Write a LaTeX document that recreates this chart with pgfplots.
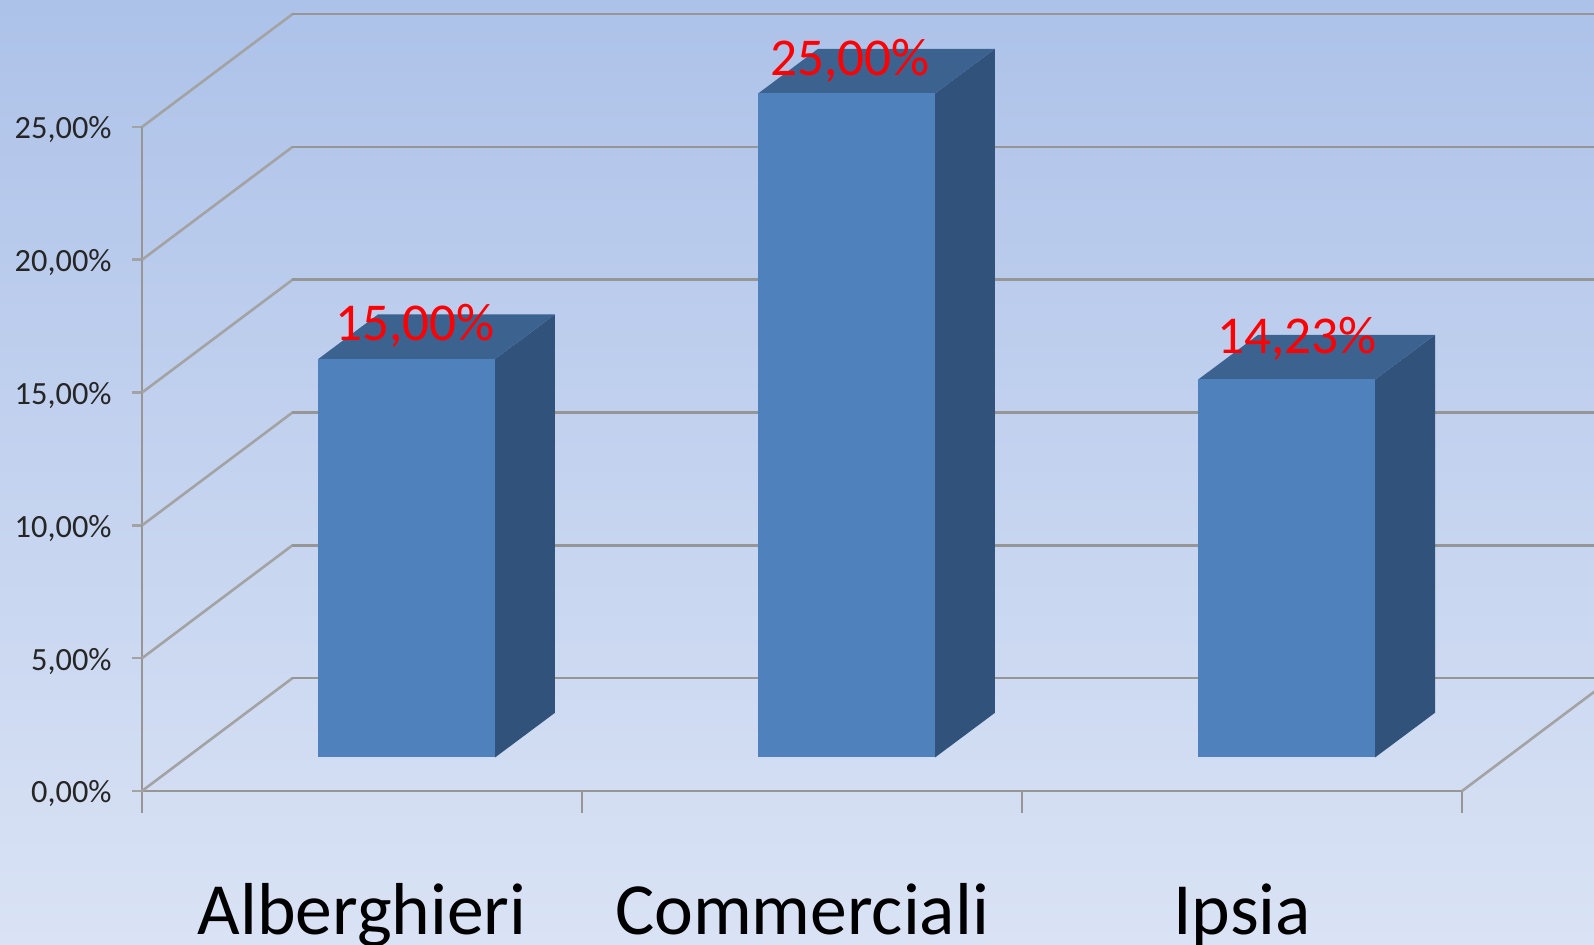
\documentclass[border=0pt]{standalone}
\usepackage{pgfplots}
\pgfplotsset{compat=1.18}
\usepackage{fontspec}
\setmainfont{Carlito}
\definecolor{bgtop}{HTML}{ADC2E9}
\definecolor{bgbot}{HTML}{DAE3F5}
\definecolor{gridc}{HTML}{969696}
\definecolor{diag}{HTML}{A3A3A3}
\definecolor{barfront}{HTML}{4F81BD}
\definecolor{barside}{HTML}{31527A}
\definecolor{bartop}{HTML}{3C6290}
\pgfplotsset{
  common/.style={
    scale only axis, width=660pt, height=332pt,
    xmin=-0.5, xmax=2.5, ymin=0, ymax=25,
    anchor=south west, clip=false,
  },
  valbar/.style 2 args={
    ybar, bar width=88.5pt, bar shift=0pt, fill=barfront, draw=none,
    point meta=explicit,
    nodes near coords={\pgfmathprintnumber[fixed,fixed zerofill,precision=2,use comma,assume math mode=true]{\pgfplotspointmeta}\%},
    every node near coord/.append style={font=\fontsize{26.6}{30}\selectfont, text=red, anchor=center, xshift=#1, yshift=#2, inner sep=0pt},
  },
}
\begin{document}
\begin{tikzpicture}[x=1pt,y=1pt]
\fill[top color=bgtop, bottom color=bgbot] (0,0) rectangle (797,472.5);
\clip (0,0) rectangle (797,472.5);
% walls, floor, ticks
\begin{axis}[common, at={(71pt,77pt)},
  axis x line=bottom, axis y line=left,
  axis line style={-, draw=gridc, line width=1.3pt},
  tick align=outside,
  xtick={0,1,2}, xticklabels={Alberghieri,Commerciali,Ipsia},
  minor xtick={-0.5,0.5,1.5,2.5},
  major x tick style={draw=none},
  minor x tick style={draw=gridc, line width=1.3pt},
  minor tick length=11pt,
  ytick={0,5,10,15,20,25},
  y tick style={draw=diag, line width=1.3pt},
  major tick length=5pt,
  yticklabel={\pgfmathprintnumber[fixed,fixed zerofill,precision=2,use comma,assume math mode=true]{\tick}\%},
  yticklabel style={font=\fontsize{16.2}{18}\selectfont, text=black!85, inner sep=0pt, xshift=-10pt, yshift=-1.5pt},
  xticklabel style={font=\fontsize{36.8}{40}\selectfont, text=black, inner sep=0pt, yshift=-41pt},
]
% side wall
\addplot[draw=diag, line width=1.3pt] coordinates {(-0.5,0) (-0.158,4.25)};
\addplot[draw=diag, line width=1.3pt] coordinates {(-0.5,5) (-0.158,9.25)};
\addplot[draw=diag, line width=1.3pt] coordinates {(-0.5,10) (-0.158,14.25)};
\addplot[draw=diag, line width=1.3pt] coordinates {(-0.5,15) (-0.158,19.25)};
\addplot[draw=diag, line width=1.3pt] coordinates {(-0.5,20) (-0.158,24.25)};
\addplot[draw=diag, line width=1.3pt] coordinates {(-0.5,25) (-0.158,29.25)};
% back wall
\addplot[draw=gridc, line width=1.3pt] coordinates {(-0.158,4.25) (2.9,4.25)};
\addplot[draw=gridc, line width=1.3pt] coordinates {(-0.158,9.25) (2.9,9.25)};
\addplot[draw=gridc, line width=1.3pt] coordinates {(-0.158,14.25) (2.9,14.25)};
\addplot[draw=gridc, line width=1.3pt] coordinates {(-0.158,19.25) (2.9,19.25)};
\addplot[draw=gridc, line width=1.3pt] coordinates {(-0.158,24.25) (2.9,24.25)};
\addplot[draw=gridc, line width=1.3pt] coordinates {(-0.158,29.25) (2.9,29.25)};
% floor, right edge
\addplot[draw=diag, line width=1.3pt] coordinates {(2.5,0) (2.842,4.25)};
\end{axis}
% bars
\begin{axis}[common, at={(93.35pt,93.8pt)}, hide axis]
% Alberghieri
\addplot[fill=barside, draw=none] coordinates {(0.201,0) (0.337,1.68) (0.337,16.68) (0.201,15)} -- cycle;
\addplot[fill=bartop, draw=none] coordinates {(-0.201,15) (-0.065,16.68) (0.337,16.68) (0.201,15)} -- cycle;
% Commerciali
\addplot[fill=barside, draw=none] coordinates {(1.201,0) (1.337,1.68) (1.337,26.68) (1.201,25)} -- cycle;
\addplot[fill=bartop, draw=none] coordinates {(0.799,25) (0.935,26.68) (1.337,26.68) (1.201,25)} -- cycle;
% Ipsia
\addplot[fill=barside, draw=none] coordinates {(2.201,0) (2.337,1.68) (2.337,15.91) (2.201,14.23)} -- cycle;
\addplot[fill=bartop, draw=none] coordinates {(1.799,14.23) (1.935,15.91) (2.337,15.91) (2.201,14.23)} -- cycle;
\addplot[valbar={4pt}{16.5pt}] coordinates {(0,15) [15]};
\addplot[valbar={1.5pt}{16.5pt}] coordinates {(1,25) [25]};
\addplot[valbar={5pt}{20.5pt}] coordinates {(2,14.23) [14.23]};
\end{axis}
\end{tikzpicture}
\end{document}
